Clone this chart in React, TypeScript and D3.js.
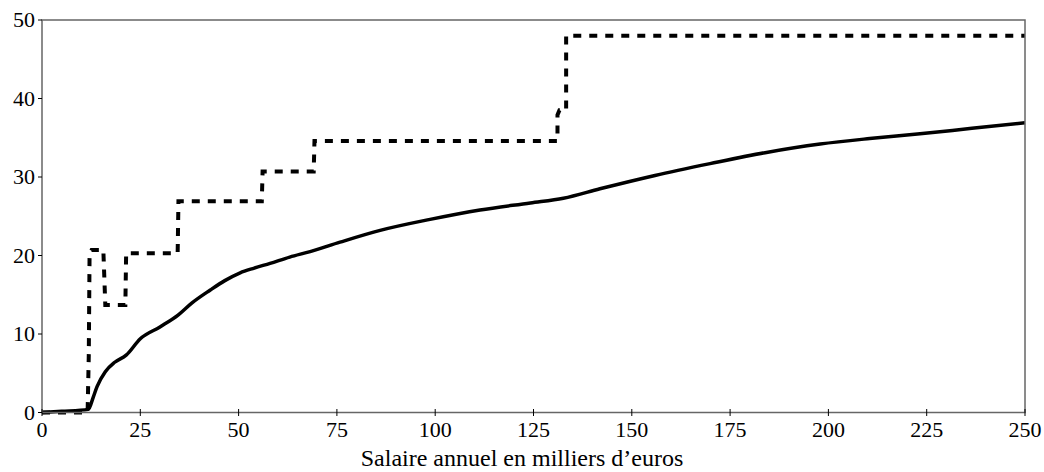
import React from 'react';
import * as d3 from 'd3';

// solid curve (average rate)
const solidX = [0, 5, 11.8, 13, 14, 16.1, 18.5, 21.4, 25, 30, 34.6, 38, 42.8, 46.5, 50.4, 54, 58, 63, 68.2, 75.8, 86, 98.7, 111.4, 124.2, 132.6, 141.9, 155.9, 169.9, 183.9, 197.9, 210.5, 223.3, 236.5, 250];
const solidY = [0, 0.15, 0.4, 1.9, 3.3, 5.2, 6.4, 7.3, 9.4, 10.9, 12.4, 13.9, 15.6, 16.8, 17.8, 18.4, 19.0, 19.8, 20.5, 21.7, 23.2, 24.6, 25.8, 26.7, 27.3, 28.5, 30.2, 31.7, 33.1, 34.2, 34.9, 35.5, 36.2, 36.9];

// dashed curve (marginal rate, steps)
const dashX = [0, 11.6, 11.9, 12.1, 12.6, 15.6, 16.1, 21.2, 21.4, 34.5, 34.7, 55.9, 56.1, 69.1, 69.3, 131.1, 131.1, 131.6, 133.3, 133.3, 250];
const dashY = [0, 0, 7.4, 20.3, 20.7, 20.7, 13.7, 13.7, 20.3, 20.3, 26.9, 26.9, 30.7, 30.7, 34.6, 34.6, 37.9, 38.5, 38.5, 48, 48];

const xTicks = [0, 25, 50, 75, 100, 125, 150, 175, 200, 225, 250];
const yTicks = [0, 10, 20, 30, 40, 50];
const xLabel = 'Salaire annuel en milliers d\u2019euros';

const W = 1044;
const H = 472;
const left = 42;
const right = 1025;
const top = 20;
const bottom = 412.5;
const font = '"Liberation Serif", serif';

export default function App() {
  const x = d3.scaleLinear().domain([0, 250]).range([left, right]);
  const y = d3.scaleLinear().domain([0, 50]).range([bottom, top]);
  const line = d3.line<[number, number]>().x(d => x(d[0])).y(d => y(d[1]));
  const smooth = d3.line<[number, number]>().x(d => x(d[0])).y(d => y(d[1])).curve(d3.curveMonotoneX);

  const solid = solidX.map((v, i) => [v, solidY[i]] as [number, number]);
  const dashed = dashX.map((v, i) => [v, dashY[i]] as [number, number]);

  return (
    <div style={{ position: 'absolute', left: 0, top: 0 }}>
      <svg width={W} height={H} style={{ display: 'block', background: '#fff' }}>
        <path d={line(dashed) || ''} fill="none" stroke="#000" strokeWidth={4} strokeDasharray="8,8" />
        <path d={smooth(solid) || ''} fill="none" stroke="#000" strokeWidth={3.5} strokeLinejoin="round" />

        <rect x={left} y={top} width={right - left} height={bottom - top} fill="none" stroke="#666" strokeWidth={1.5} />

        {xTicks.map(t => (
          <g key={'x' + t}>
            <line x1={x(t)} x2={x(t)} y1={bottom - 3.5} y2={bottom + 3.5} stroke="#000" strokeWidth={1} />
            <text x={x(t)} y={437} textAnchor="middle" fontFamily={font} fontSize={22} fill="#000">{t}</text>
          </g>
        ))}
        {yTicks.map(t => (
          <g key={'y' + t}>
            <line x1={left - 4} x2={left} y1={y(t)} y2={y(t)} stroke="#000" strokeWidth={1} />
            <text x={35} y={y(t)} dy="0.34em" textAnchor="end" fontFamily={font} fontSize={22} fill="#000">{t}</text>
          </g>
        ))}

        <text x={W / 2} y={466} textAnchor="middle" fontFamily={font} fontSize={24} fill="#000">{xLabel}</text>
      </svg>
    </div>
  );
}
